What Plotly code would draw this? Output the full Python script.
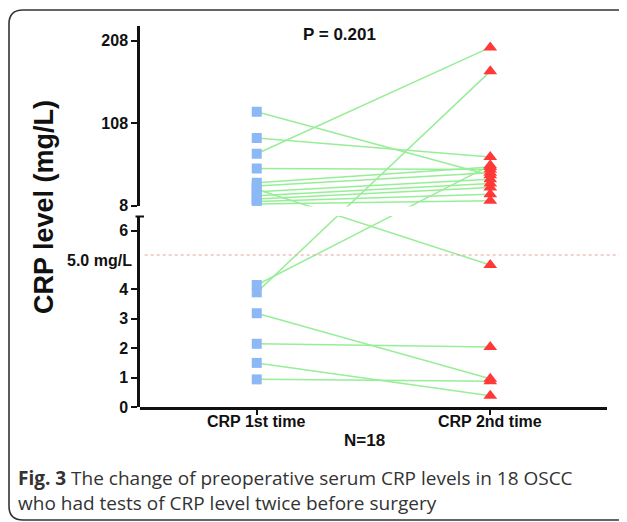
import plotly.graph_objects as go

# ---------------- data ----------------
categories = ["CRP 1st time", "CRP 2nd time"]
crp_1st = [122, 90, 71, 53, 36, 32, 28, 25, 20, 16, 13, 10, 4.15, 3.9, 3.19, 2.15, 1.5, 0.94]
crp_2nd = [45, 67, 200, 52, 55, 48, 4.83, 40, 35, 30, 22, 14, 57, 171, 0.96, 2.04, 0.38, 0.88]
bottom_ticks = [0, 1, 2, 3, 4, 6]
top_ticks = [8, 108, 208]
threshold = 5.0
p_text = "P = 0.201"
n_text = "N=18"

# ---------------- layout geometry (screen pixels; page body has an 8px margin) ----------------
OFF = 8
W, H = 627 - OFF, 522 - OFF
PL, PR, PT, PB = 140, 607, 26, 407          # plot area in screen pixels
ML, MT = PL - OFF, PT - OFF
MR, MB = (W + OFF) - PR, (H + OFF) - PB
PW, PH = PR - PL, PB - PT
BOT_RANGE = [0, 6.48]
TOP_RANGE = [8, 226]
BOT_DOM = [0, 0.5]
TOP_DOM = [0.5283, 1]


def pxx(px):
    return (px - PL) / PW


def pxy(py):
    return (PB - py) / PH


def brk(v):
    """map a value onto the broken (two-segment) axis, as a fraction of plot height"""
    if v <= BOT_RANGE[1]:
        return BOT_DOM[0] + (v - BOT_RANGE[0]) / (BOT_RANGE[1] - BOT_RANGE[0]) * (BOT_DOM[1] - BOT_DOM[0])
    return TOP_DOM[0] + (v - TOP_RANGE[0]) / (TOP_RANGE[1] - TOP_RANGE[0]) * (TOP_DOM[1] - TOP_DOM[0])


fig = go.Figure()

# connecting lines (screen-space across the break)
lx, ly = [], []
for a, b in zip(crp_1st, crp_2nd):
    lx += [1, 2, None]
    ly += [brk(a), brk(b), None]
fig.add_trace(go.Scatter(x=lx, y=ly, mode="lines", yaxis="y",
                         line=dict(color="#97EE97", width=1.5),
                         hoverinfo="skip", showlegend=False))

# markers on their own segment axes
for vals, xpos, sym, col, size in [(crp_1st, 1, "square", "#8CB9F6", 10),
                                   (crp_2nd, 2, "triangle-up", "#FF3838", 12)]:
    low = [v for v in vals if v <= BOT_RANGE[1]]
    high = [v for v in vals if v > BOT_RANGE[1]]
    fig.add_trace(go.Scatter(x=[xpos] * len(low), y=low, yaxis="y2", mode="markers",
                             marker=dict(symbol=sym, color=col, size=size, line=dict(width=0)),
                             showlegend=False))
    fig.add_trace(go.Scatter(x=[xpos] * len(high), y=high, yaxis="y3", mode="markers",
                             marker=dict(symbol=sym, color=col, size=size, line=dict(width=0)),
                             showlegend=False))

bold = "Liberation Sans, Arial, sans-serif"
tickfont = dict(family=bold, size=16, color="#111111")

axis_common = dict(showline=True, linecolor="#111111", linewidth=2.5, ticks="outside",
                   ticklen=6, tickwidth=2, tickcolor="#111111", showgrid=False,
                   zeroline=False, tickfont=tickfont, anchor="x", fixedrange=True)

fig.update_layout(
    width=W, height=H,
    margin=dict(l=ML, r=MR, t=MT, b=MB, pad=0),
    paper_bgcolor="white", plot_bgcolor="rgba(0,0,0,0)",
    xaxis=dict(range=[0.5, 2.5], tickvals=[1, 2], showticklabels=False,
               showline=True, linecolor="#111111", linewidth=2.5, ticks="outside",
               ticklen=5, tickwidth=2, tickcolor="#111111", showgrid=False,
               zeroline=False, anchor="y", fixedrange=True),
    yaxis=dict(range=[0, 1], domain=[0, 1], visible=False, fixedrange=True),
    yaxis2=dict(range=BOT_RANGE, domain=BOT_DOM, tickvals=bottom_ticks,
                ticktext=[f"<b>{t}</b>" for t in bottom_ticks], **axis_common),
    yaxis3=dict(range=TOP_RANGE, domain=TOP_DOM, tickvals=top_ticks,
                ticktext=[f"<b>{t}</b>" for t in top_ticks], **axis_common),
)

shapes = []
# white-out band for the axis break
shapes.append(dict(type="rect", xref="paper", yref="paper", x0=0.004, x1=1,
                   y0=BOT_DOM[1] + 0.001, y1=TOP_DOM[0] - 0.002,
                   fillcolor="white", line=dict(width=0), layer="above"))
# cap at top of bottom segment
shapes.append(dict(type="line", xref="paper", yref="paper", x0=pxx(135.5), x1=pxx(144),
                   y0=BOT_DOM[1], y1=BOT_DOM[1], line=dict(color="#111111", width=2)))
# threshold dotted line
shapes.append(dict(type="line", xref="paper", yref="y2", x0=0.01, x1=pxx(627),
                   y0=threshold + 0.17, y1=threshold + 0.17,
                   line=dict(color="#E3A39B", width=1.2, dash="dot")))
# figure frame
R = 14
L_, T_, Rr, B_ = 9, 10, 633, 520
frame = (f"M {pxx(Rr - R)},{pxy(T_)} L {pxx(L_ + R)},{pxy(T_)} "
         f"Q {pxx(L_)},{pxy(T_)} {pxx(L_)},{pxy(T_ + R)} "
         f"L {pxx(L_)},{pxy(B_ - R)} Q {pxx(L_)},{pxy(B_)} {pxx(L_ + R)},{pxy(B_)} "
         f"L {pxx(Rr - R)},{pxy(B_)} Q {pxx(Rr)},{pxy(B_)} {pxx(Rr)},{pxy(B_ - R)} "
         f"L {pxx(Rr)},{pxy(T_ + R)} Q {pxx(Rr)},{pxy(T_)} {pxx(Rr - R)},{pxy(T_)} Z")
shapes.append(dict(type="path", xref="paper", yref="paper", path=frame,
                   line=dict(color="#333333", width=1.6), fillcolor="rgba(0,0,0,0)"))
fig.update_layout(shapes=shapes)

ann = [
    dict(text="<b>CRP level (mg/L)</b>", xref="paper", yref="paper",
         x=pxx(44), y=pxy(207), textangle=-90, showarrow=False,
         font=dict(family=bold, size=27, color="#111111"), xanchor="center", yanchor="middle"),
    dict(text=f"<b>{threshold:.1f} mg/L</b>", xref="paper", yref="y2", x=pxx(134), y=threshold,
         xanchor="right", yanchor="middle", showarrow=False,
         font=dict(family=bold, size=16, color="#111111")),
    dict(text=f"<b>{p_text}</b>", xref="paper", yref="paper", x=pxx(339), y=pxy(34),
         xanchor="center", yanchor="middle", showarrow=False,
         font=dict(family=bold, size=17, color="#111111")),
    dict(text=f"<b>{n_text}</b>", xref="paper", yref="paper", x=pxx(364), y=pxy(440),
         xanchor="center", yanchor="middle", showarrow=False,
         font=dict(family=bold, size=17, color="#111111")),
    dict(text="<b>Fig. 3</b> The change of preoperative serum CRP levels in 18 OSCC",
         xref="paper", yref="paper", x=pxx(16), y=pxy(478), xanchor="left", yanchor="middle",
         showarrow=False, font=dict(family="Open Sans, sans-serif", size=19, color="#333333")),
    dict(text="who had tests of CRP level twice before surgery",
         xref="paper", yref="paper", x=pxx(16), y=pxy(503), xanchor="left", yanchor="middle",
         showarrow=False, font=dict(family="Open Sans, sans-serif", size=19, color="#333333")),
]
for i, c in enumerate(categories):
    ann.append(dict(text=f"<b>{c}</b>", xref="x", yref="paper", x=i + 1, y=pxy(421),
                    xanchor="center", yanchor="middle", showarrow=False,
                    font=dict(family=bold, size=16, color="#111111")))
fig.update_layout(annotations=ann)

fig.write_html("out.html")
